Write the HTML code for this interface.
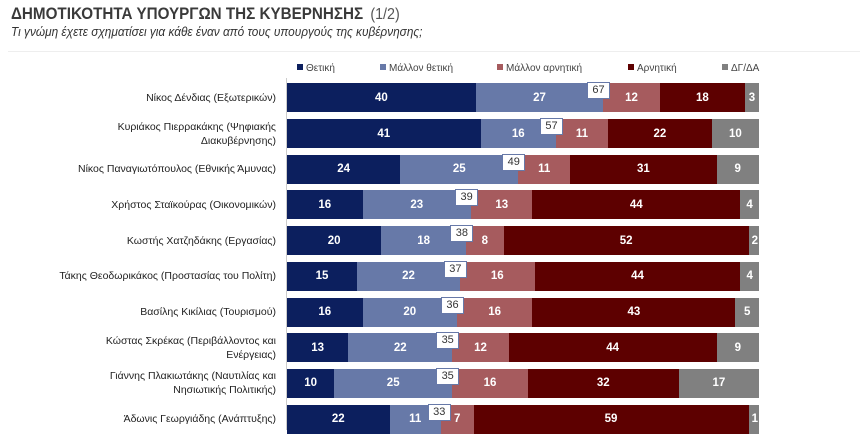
<!DOCTYPE html>
<html><head><meta charset="utf-8"><style>
*{margin:0;padding:0;box-sizing:border-box}
body{width:860px;height:430px;background:#fff;position:relative;overflow:hidden;font-family:"Liberation Sans",Arial,sans-serif;color:#333}
.t{position:absolute;left:11px;top:4px;font-size:17px;font-weight:bold;color:#3a3a3a;white-space:nowrap;transform-origin:0 0;transform:scaleX(0.895)}
.t span{font-weight:normal;color:#555;font-size:16px;margin-left:8px}
.s{position:absolute;left:11px;top:24px;font-size:13px;font-style:italic;color:#333;white-space:nowrap;transform-origin:0 0;transform:scaleX(0.91)}
.hl{position:absolute;left:8px;right:0;top:51px;height:1px;background:#eee}
.ax{position:absolute;left:286px;top:78px;width:1px;height:352px;background:#ccc}
.lg{position:absolute;top:63px;font-size:10px;color:#444;white-space:nowrap}
.lg i{display:inline-block;width:6px;height:6px;margin-right:3px;vertical-align:1px}
.lab{position:absolute;left:0;width:276px;text-align:right;font-size:10.5px;line-height:14px;color:#222}
.bar{position:absolute;left:287px;width:472px;height:29px;display:flex}
.bar div{flex-basis:0;height:100%;color:#fff;font-weight:bold;font-size:11.5px;display:flex;align-items:center;justify-content:center;overflow:visible;white-space:nowrap}
.a{background:#0c1f5e}.b{background:#6779a8}.c{background:#a65b5e}.d{background:#5d0000}.e{background:#808080}
.bx{position:absolute;width:23px;height:17px;background:#fff;border:1.5px solid #6779a8;font-size:11px;color:#333;text-align:center;line-height:14px}
.sm{background:#808080;padding:0 1px;border-radius:1px;margin-left:2px}
</style></head><body>
<div class="t">ΔΗΜΟΤΙΚΟΤΗΤΑ ΥΠΟΥΡΓΩΝ ΤΗΣ ΚΥΒΕΡΝΗΣΗΣ<span>(1/2)</span></div>
<div class="s">Τι γνώμη έχετε σχηματίσει για κάθε έναν από τους υπουργούς της κυβέρνησης;</div>
<div class="hl"></div>
<div class="lg" style="left:297px"><i style="background:#0c1f5e"></i>Θετική</div>
<div class="lg" style="left:380px"><i style="background:#6779a8"></i>Μάλλον θετική</div>
<div class="lg" style="left:497px"><i style="background:#a65b5e"></i>Μάλλον αρνητική</div>
<div class="lg" style="left:628px"><i style="background:#5d0000"></i>Αρνητική</div>
<div class="lg" style="left:722px"><i style="background:#808080"></i>ΔΓ/ΔΑ</div>
<div class="ax"></div>

<div class="lab" style="top:90.8px">Νίκος Δένδιας (Εξωτερικών)</div>
<div class="bar" style="top:83.3px"><div class="a" style="flex-grow:40">40</div><div class="b" style="flex-grow:27">27</div><div class="c" style="flex-grow:12">12</div><div class="d" style="flex-grow:18">18</div><div class="e" style="flex-grow:3">3</div></div>
<div class="bx" style="left:587px;top:82px">67</div>

<div class="lab" style="top:119.5px">Κυριάκος Πιερρακάκης (Ψηφιακής<br>Διακυβέρνησης)</div>
<div class="bar" style="top:119px"><div class="a" style="flex-grow:41">41</div><div class="b" style="flex-grow:16">16</div><div class="c" style="flex-grow:11">11</div><div class="d" style="flex-grow:22">22</div><div class="e" style="flex-grow:10">10</div></div>
<div class="bx" style="left:540px;top:118px">57</div>

<div class="lab" style="top:162.2px">Νίκος Παναγιωτόπουλος (Εθνικής Άμυνας)</div>
<div class="bar" style="top:154.7px"><div class="a" style="flex-grow:24">24</div><div class="b" style="flex-grow:25">25</div><div class="c" style="flex-grow:11">11</div><div class="d" style="flex-grow:31">31</div><div class="e" style="flex-grow:9">9</div></div>
<div class="bx" style="left:502.3px;top:153.7px">49</div>

<div class="lab" style="top:197.9px">Χρήστος Σταϊκούρας (Οικονομικών)</div>
<div class="bar" style="top:190.4px"><div class="a" style="flex-grow:16">16</div><div class="b" style="flex-grow:23">23</div><div class="c" style="flex-grow:13">13</div><div class="d" style="flex-grow:44">44</div><div class="e" style="flex-grow:4">4</div></div>
<div class="bx" style="left:455.1px;top:189.4px">39</div>

<div class="lab" style="top:233.6px">Κωστής Χατζηδάκης (Εργασίας)</div>
<div class="bar" style="top:226.1px"><div class="a" style="flex-grow:20">20</div><div class="b" style="flex-grow:18">18</div><div class="c" style="flex-grow:8">8</div><div class="d" style="flex-grow:52">52</div><div class="e" style="flex-grow:2"><span class="sm">2</span></div></div>
<div class="bx" style="left:450.4px;top:225.1px">38</div>

<div class="lab" style="top:269.3px">Τάκης Θεοδωρικάκος (Προστασίας του Πολίτη)</div>
<div class="bar" style="top:261.8px"><div class="a" style="flex-grow:15">15</div><div class="b" style="flex-grow:22">22</div><div class="c" style="flex-grow:16">16</div><div class="d" style="flex-grow:44">44</div><div class="e" style="flex-grow:4">4</div></div>
<div class="bx" style="left:443.9px;top:260.8px">37</div>

<div class="lab" style="top:305px">Βασίλης Κικίλιας (Τουρισμού)</div>
<div class="bar" style="top:297.5px"><div class="a" style="flex-grow:16">16</div><div class="b" style="flex-grow:20">20</div><div class="c" style="flex-grow:16">16</div><div class="d" style="flex-grow:43">43</div><div class="e" style="flex-grow:5">5</div></div>
<div class="bx" style="left:441px;top:296.5px">36</div>

<div class="lab" style="top:333.7px">Κώστας Σκρέκας (Περιβάλλοντος και<br>Ενέργειας)</div>
<div class="bar" style="top:333.2px"><div class="a" style="flex-grow:13">13</div><div class="b" style="flex-grow:22">22</div><div class="c" style="flex-grow:12">12</div><div class="d" style="flex-grow:44">44</div><div class="e" style="flex-grow:9">9</div></div>
<div class="bx" style="left:436.2px;top:332.2px">35</div>

<div class="lab" style="top:369.4px">Γιάννης Πλακιωτάκης (Ναυτιλίας και<br>Νησιωτικής Πολιτικής)</div>
<div class="bar" style="top:368.9px"><div class="a" style="flex-grow:10">10</div><div class="b" style="flex-grow:25">25</div><div class="c" style="flex-grow:16">16</div><div class="d" style="flex-grow:32">32</div><div class="e" style="flex-grow:17">17</div></div>
<div class="bx" style="left:436.2px;top:367.9px">35</div>

<div class="lab" style="top:412.1px">Άδωνις Γεωργιάδης (Ανάπτυξης)</div>
<div class="bar" style="top:404.6px"><div class="a" style="flex-grow:22">22</div><div class="b" style="flex-grow:11">11</div><div class="c" style="flex-grow:7">7</div><div class="d" style="flex-grow:59">59</div><div class="e" style="flex-grow:1"><span class="sm">1</span></div></div>
<div class="bx" style="left:427.8px;top:403.6px">33</div>
</body></html>
